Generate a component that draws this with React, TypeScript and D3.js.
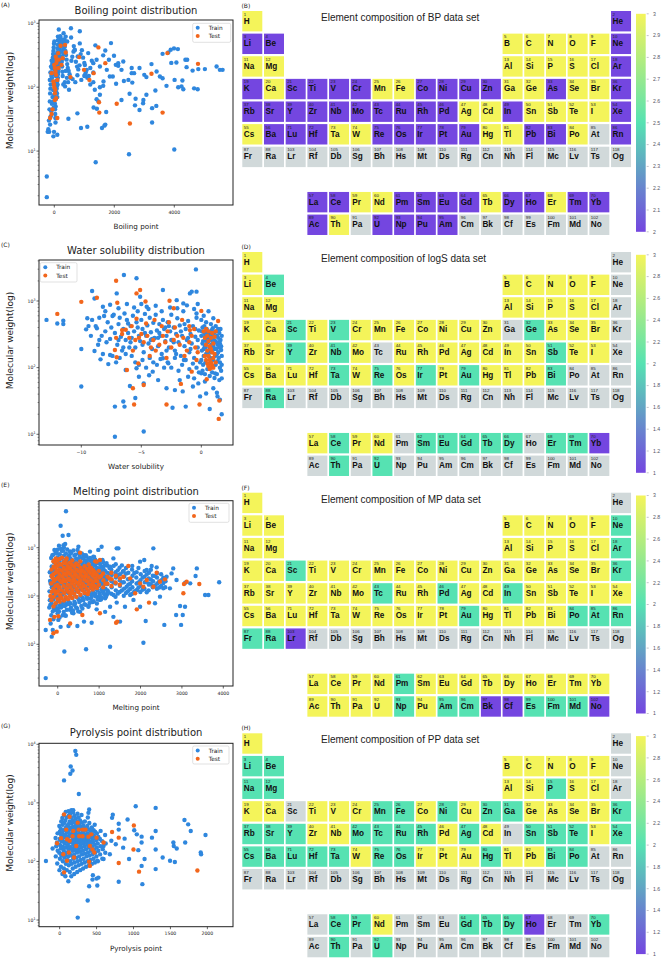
import React from "react";
import * as d3 from "d3";

// ---------------- DATA ----------------
const SYMBOLS = "H He Li Be B C N O F Ne Na Mg Al Si P S Cl Ar K Ca Sc Ti V Cr Mn Fe Co Ni Cu Zn Ga Ge As Se Br Kr Rb Sr Y Zr Nb Mo Tc Ru Rh Pd Ag Cd In Sn Sb Te I Xe Cs Ba La Ce Pr Nd Pm Sm Eu Gd Tb Dy Ho Er Tm Yb Lu Hf Ta W Re Os Ir Pt Au Hg Tl Pb Bi Po At Rn Fr Ra Ac Th Pa U Np Pu Am Cm Bk Cf Es Fm Md No Lr Rf Db Sg Bh Hs Mt Ds Rg Cn Nh Fl Mc Lv Ts Og".split(" ");

// BP (range 2-3)
const bp3 = "H B C N O F Na Mg Al Si P S Cl Ca Mn Fe Ga Ge Se Br Ag Cd Sn Sb Te I Cs Ta W Hg Tl Po Pr Nd Tb Er Th".split(" ");
const bp2 = "He Li Be Ne Ar K Sc Ti V Cr Co Ni Cu Zn As Kr Rb Sr Y Zr Nb Mo Tc Ru Rh Pd In Xe Ba Lu Hf Re Os Ir Pt Au Pb Bi Rn La Ce Pm Sm Eu Gd Dy Ho Tm Yb Ac U Np Pu Am".split(" ");
const bp1: string[] = [];
// logS
const ls3 = "H Li B C N O F Na Mg Al Si P S Cl K Ca Ti Cr Mn Fe Co Ni Cu Zn As Se Br Rb Sr Zr Mo Ru Rh Pd Ag Cd In Sn Te I Cs Ba Lu Hf W Os Pt Hg Tl Pb La Pr Nd".split(" ");
const ls2 = "Be Sc V Ge Y Nb Sb Ta Re Ir Au Bi Ra Ce Sm Eu Gd Tb Dy Er Tm Th U".split(" ");
const ls1 = ["Yb"];
// MP
const mp3 = "H Li Be B C N O F Na Mg Al Si P S Cl K Ca Ti V Cr Mn Fe Co Ni Cu Zn Ga Ge As Se Br Rb Sr Y Zr Nb Mo Ru Rh Ag Cd Sn Sb Te I Xe Cs Ba Lu Hf Ta W Re Os Ir Pt Hg Tl Pb Bi La Ce Pr Nd Sm Eu Gd Tb Dy Ho Er Tm Yb Ac Th Pa U Pu".split(" ");
const mp2 = "Ne Ar Sc Kr Tc Pd In Au Po At Rn Fr Ra Pm Np Am Cm Es Fm Md".split(" ");
const mp1 = "Lr Bk Cf No".split(" ");
// PP
const pp3 = "H B C N O F Al Si S Cl K Ca Ti V Cr Co Cu Ge As Se Br Zr Nb Pd Cd I W Ir Pt Au Tl Pb Nd".split(" ");
const pp2 = "Li Be Na Mg P Mn Fe Ni Zn Ga Kr Rb Sr Y Mo Tc Ru Rh Ag Sn Sb Te Xe Cs Ba Lu Hf Ta Re Os Hg Bi Po Ce Pr Gd Tb Dy Yb Th U".split(" ");
const pp1 = ["Ho"];

const cbTicksBP = [2, 2.1, 2.2, 2.3, 2.4, 2.5, 2.6, 2.7, 2.8, 2.9, 3];
const cbTicksAll = [1, 1.2, 1.4, 1.6, 1.8, 2, 2.2, 2.4, 2.6, 2.8, 3];

// Scatter data as flat [x, y, x, y, ...]
const bpTrain = [
-250,4,-250,1.9,-220,20,-30,17,100,18,-10,20,1380,6.7,2490,8.9,4000,10.6,890,23,1100,24,1670,25,1700,26,1590,23,770,39,470,32,1310,48,1420,46,1730,41,1410,65,1470,60,3260,28,2840,44,2690,52,2960,56,2970,63,3260,47,3400,51,3070,76,2510,79,2710,66,2240,63,2060,113,2320,125,2470,130,2600,118,2660,166,2840,200,2580,166,3000,156,3070,144,3240,230,3410,176,3520,147,3610,138,3370,89,3740,105,4010,130,4130,100,4270,127,4300,93,4410,206,4610,182,4800,192,5020,192,5410,211,5520,187,5610,187,4660,96,4780,93,4240,103,3610,333,3800,350,3880,385,3990,405,4120,395,3900,240,4070,244,4370,269,4430,269,1950,147,2050,224,1890,490,1630,315,1700,376,1820,269,1750,187,1520,211,1370,452,1130,342,850,485,850,750,555,835,680,385,780,303,1020,222,1080,187,1300,170,1300,238,1410,269,1520,100,1350,91,1020,156,1120,144,770,154,610,134,490,91,360,103,2240,187,2580,200,2130,216,2300,253,1990,310,2130,238,1850,147,1630,105,1640,123,1520,76,
-180,30,-160,45,-150,60,-140,80,-130,95,-120,110,-110,130,-100,150,-90,170,-80,200,-70,230,-60,260,-50,290,-40,330,-30,370,-20,420,-10,480,0,520,10,90,15,70,20,55,25,45,30,38,35,33,40,28,45,50,50,65,55,85,60,105,65,125,70,150,75,180,80,210,85,240,90,270,95,310,100,350,105,400,110,460,115,540,120,620,-150,130,-130,170,-110,210,-90,260,-70,140,-50,110,-30,90,-10,75,0,160,5,190,10,230,15,270,20,320,30,260,40,210,50,180,60,150,70,120,80,95,90,80,100,70,110,110,120,140,130,175,140,220,150,280,160,340,170,410,180,490,190,560,200,630,210,520,220,430,230,360,240,300,250,250,260,210,270,175,280,150,290,280,300,330,310,390,320,450,330,510,340,560,350,430,370,370,390,320,410,270,430,230,450,200,480,180,510,160,540,140,570,260,600,300,640,360,680,380,720,250,760,210,800,190,840,220,880,330,920,380,960,290,1000,240,1050,170,1100,140,1150,150,1200,200,1250,260,-200,22,-170,20,-140,26,-120,35,-100,42,-80,55,-60,70,-40,60,-20,48,150,800,170,580,250,500,260,560,200,370,180,300,160,240,140,190,120,160,100,125,90,105,380,180,420,140,460,120,350,120,300,110,700,120,900,130,1200,110,1300,120,1000,150,650,440,560,600,430,520,380,620,310,700
];
const bpTest = [
-90,38,-140,33,100,33,20,63,30,91,-30,123,40,176,0,224,80,269,130,342,210,446,360,460,380,350,280,285,240,224,140,200,60,156,-10,111,20,80,-60,45,60,67,540,144,990,187,830,296,1170,130,1310,166,1470,420,1700,238,1490,58,1500,40,2080,55,2520,27,3240,162,3610,40,3770,342,4790,232,-90,166,100,130,20,200,50,300,150,270,0,100,70,240
];

const lsTrain = [
-12.9,520,-12.0,460,-11.5,505,-11.5,450,-10.0,190,-10.0,52,-9.6,375,-9.5,550,-9.1,1410,-8.9,1090,-9.1,520,-8.7,390,-8.9,178,-8.5,260,-8.2,820,-8.1,595,-8.4,133,-7.75,113,-7.6,155,-7.4,595,-7.2,26,-7.2,9.2,-7.05,1300,-6.9,260,-6.5,31,-6.45,2450,-6.4,26,-6.5,200,-6.3,92,-6.1,460,-5.95,53,-5.5,35,-5.4,2190,-5.4,98,-5.2,73,-5.1,1160,-4.8,11,-4.8,58,-4.55,820,-4.35,77,-4.05,87,-3.9,275,-3.6,65,-3.2,1460,-3.2,138,-2.9,49,-2.75,116,-2.5,260,-2.4,25,-2.2,46,-2.05,1030,-1.8,65,-1.55,44,-1.5,920,-1.45,130,-1.3,26,-1.1,73,-0.95,1300,-0.8,1380,-0.7,52,-0.6,69,-0.45,2980,-0.4,1380,-0.4,650,-0.25,58,-0.1,37,0,82,0.3,62,0.4,41,0.7,24,1.0,49,1.15,82,1.3,42,1.35,37,1.7,20,1.55,33,1.7,69,1.7,110,1.55,230,1.65,184,
-8.8,420,-8.5,560,-8.3,300,-8.0,350,-7.8,480,-7.6,270,-7.5,400,-7.3,620,-7.2,330,-7.0,220,-6.9,450,-6.8,560,-6.7,290,-6.6,180,-6.5,380,-6.4,650,-6.3,260,-6.2,520,-6.1,330,-6.0,200,-8.6,220,-8.2,160,-7.9,240,-7.4,150,-7.1,120,-6.8,140,-6.3,160,-9.2,300,-9.4,420,-8.0,700,-7.6,880,-6.9,780,-6.2,900,
-5.9,420,-5.8,280,-5.7,600,-5.6,350,-5.5,200,-5.4,480,-5.3,700,-5.2,300,-5.1,250,-5.0,520,-4.9,380,-4.8,170,-4.7,640,-4.6,300,-4.5,430,-4.4,230,-4.3,560,-4.2,340,-4.1,190,-4.0,470,-3.9,280,-3.8,620,-3.7,360,-3.6,210,-3.5,450,-3.4,300,-3.3,160,-3.2,520,-3.1,380,-3.0,250,-5.8,150,-5.5,120,-5.2,110,-4.9,130,-4.6,100,-4.3,140,-4.0,120,-3.7,110,-3.4,135,-3.1,100,-5.6,800,-5.0,900,-4.4,760,-3.8,850,-3.3,700,-5.3,400,-4.7,330,-4.1,270,-3.5,330,-5.9,240,-4.9,220,-4.2,260,-3.6,280,-3.0,400,
-2.9,300,-2.8,480,-2.7,200,-2.6,350,-2.5,620,-2.4,260,-2.3,400,-2.2,180,-2.1,320,-2.0,550,-1.9,240,-1.8,430,-1.7,150,-1.6,300,-1.5,700,-1.4,210,-1.3,380,-1.2,260,-1.1,500,-1.0,170,-0.9,320,-0.8,230,-0.7,420,-0.6,140,-0.5,290,-0.4,560,-0.3,200,-0.2,360,-0.1,120,-2.8,120,-2.5,100,-2.2,140,-1.9,90,-1.6,110,-1.3,130,-1.0,95,-0.7,115,-0.4,100,-0.2,85,-2.6,800,-2.0,780,-1.2,860,-0.6,760,-0.3,900,-2.9,180,-2.3,240,-1.7,350,-1.1,280,-0.5,380,-2.7,420,-2.1,160,-1.4,450,-0.9,190,-0.3,260,
0.0,300,0.05,180,0.1,400,0.15,250,0.2,150,0.25,330,0.3,210,0.35,120,0.4,280,0.45,380,0.5,170,0.55,240,0.6,110,0.65,320,0.7,200,0.75,140,0.8,260,0.85,360,0.9,180,0.95,230,1.0,130,1.05,300,1.1,190,1.15,250,1.2,110,1.25,350,1.3,160,1.35,220,1.4,280,1.45,140,1.5,200,1.55,120,1.6,260,1.65,90,0.0,520,0.2,600,0.4,480,0.6,700,0.8,450,1.0,550,1.2,420,1.4,380,0.1,90,0.3,80,0.5,95,0.7,75,0.9,85,1.1,70,1.3,80,1.5,65,0.1,230,0.3,290,0.5,330,0.7,270,0.9,310,1.1,340,1.3,300,1.5,330,0.2,190,0.4,160,0.6,150,0.8,170,1.0,210,1.2,240,1.4,170,0.0,130,0.15,110,0.35,200,0.55,290,0.75,330,0.95,390,1.15,150,1.35,125,1.55,100,0.05,350,0.25,420,0.45,250,0.65,180,0.85,220,1.05,260,1.25,190,1.45,240,1.65,210,1.7,150,1.7,300,1.6,380
];
const lsTest = [
-12,640,-10,970,-8.7,1120,-7.1,2010,-7.0,940,-7.05,143,-7.2,184,-6.6,366,-6.2,92,-5.7,49,-5.6,28,-5.4,1300,-5.1,1460,-4.65,980,-4.8,55,-5.25,116,-2.9,28,-2.65,1010,-2.3,780,-1.7,57,-0.95,366,-0.15,28,0,710,1.4,500,1.5,32,1.45,17,0.45,67,-0.8,87,
0.2,350,0.3,280,0.4,220,0.5,180,0.6,150,0.7,130,0.8,120,0.9,110,1.0,140,0.5,300,0.6,250,0.7,210,0.8,190,0.9,170,1.0,230,1.1,160,1.2,120,0.3,150,0.4,130,0.5,115,0.6,105,0.7,95,0.8,100,1.0,100,1.1,290,1.2,350,0.9,330,0.8,280,0.6,350,0.4,380,
-5.5,260,-5.2,280,-5.0,320,-4.8,240,-4.5,300,-4.2,200,-4.0,260,-3.8,180,-3.5,220,-3.2,300,-3.0,240,-2.8,350,-2.5,200,-2.3,260,-2.0,300,-1.8,220,-1.5,280,-1.2,180,-1.0,240,-0.8,300,-0.5,200,-0.3,170,-6.3,370,-6.0,280,-5.8,420,-5.4,540,-4.6,460,-3.9,520,-3.3,420,-2.7,480,-2.2,400,-1.6,520,-1.0,420,-0.6,380,-5.7,180,-4.3,150,-2.9,140,-1.4,150,-0.4,130,-6.6,320,-7.1,280
];

const mpTrain = [
-290,2.0,-290,19.8,-145,14.4,160,7.1,685,7.9,1265,8.9,2070,10.8,2125,30.4,2575,25.2,2980,25.2,2860,40.5,3020,40.5,3075,60,2955,62,3560,105,3640,105,3900,192,3360,373,3330,259,3200,183,3080,188,2790,373,2750,294,2870,214,2630,251,2550,144,2710,144,2470,97,2350,71,2310,970,2090,555,1990,514,2150,345,2270,417,2390,392,2190,183,1920,133,1830,83,1990,60,1750,105,1665,156,1570,318,1465,970,1425,970,1345,600,1265,405,1060,1050,980,900,860,650,780,830,620,710,500,1050,300,830,260,1830,200,5700,70,2850,120,1770,140,1130,1020,83,1145,47,1345,37,1505,29.5,820,28,635,29.5,475,24,260,24,70,23,-120,19.8,-170,27,15,32,175,40,380,44,540,47,740,60,940,53,1265,60,1625,60,1425,73,
-205,58,-190,82,-198,125,-185,205,-192,310,
-155,40,-148,71,-160,92,-142,152,-152,255,-146,410,-158,610,
-105,33,-96,56,-110,84,-92,112,-104,172,-98,232,-108,355,-94,505,-102,720,
-55,52,-46,66,-58,96,-44,132,-52,192,-48,282,-56,425,-42,565,-50,810,
-4,44,6,56,-8,78,3,101,-2,142,8,202,-6,262,4,335,-10,455,2,625,-3,910,
45,36,54,64,48,86,56,121,44,162,52,242,47,302,55,385,43,525,51,730,
96,61,104,71,98,101,106,132,94,182,102,222,97,282,105,355,95,435,103,605,99,860,
146,47,154,76,148,112,156,152,144,202,152,262,147,322,155,405,145,505,153,690,149,1010,
196,39,204,66,198,91,206,126,194,172,202,232,197,292,205,375,195,465,203,565,199,760,
246,70,254,81,248,116,256,162,244,212,252,272,247,342,255,425,245,525,253,645,
296,52,304,71,298,101,306,142,294,192,302,252,297,312,305,395,295,485,303,605,299,830,
346,45,354,91,348,126,356,172,344,222,352,292,347,362,355,455,345,555,
396,66,404,76,398,111,406,152,394,202,402,262,397,332,405,415,395,515,403,685,
446,58,454,96,448,131,456,182,444,242,452,302,447,382,455,475,445,595,
496,48,504,86,498,121,506,162,494,212,502,282,497,352,505,445,495,565,503,770,
546,80,554,101,548,142,556,192,544,252,552,322,547,405,555,505,
596,55,604,91,598,131,606,172,594,232,602,302,597,375,605,465,595,605,
646,68,654,111,648,152,656,202,644,262,652,342,647,425,655,535,
696,92,704,96,698,136,706,182,694,242,702,312,697,395,705,485,695,655,
746,62,754,116,748,162,756,212,744,282,752,352,747,445,
796,88,804,106,798,146,806,192,794,252,802,322,797,415,805,525,
846,75,854,121,848,166,856,222,844,292,852,372,847,465,
896,105,904,111,898,152,906,202,894,272,902,342,897,435,905,565,
946,70,954,131,948,176,956,232,944,302,952,385,
996,98,1004,116,998,162,1006,212,994,282,1002,362,997,475,
1046,85,1054,136,1048,182,1056,242,1044,312,1052,405,
1096,120,1104,126,1098,172,1106,222,1094,292,1102,372,1097,505,
1146,90,1154,142,1148,192,1156,252,1144,332,
1196,110,1204,131,1198,176,1206,232,1194,302,1202,425,
1296,111,1304,152,1298,202,1306,272,1294,352,
1396,96,1404,131,1398,182,1406,242,1394,312,1402,455,
1496,121,1504,162,1498,212,1506,282,1494,385,
1596,101,1604,142,1598,192,1606,252,1594,332,
1696,126,1704,172,1698,222,1706,302,
1796,111,1804,152,1798,202,1806,262,1794,352,
1896,131,1904,182,1898,242,1906,312,
1996,121,2004,162,1998,212,2006,282,
2096,141,2104,192,2098,252,
2196,131,2204,172,2198,232,2206,302,
2296,152,2304,202,2298,262,
2396,141,2404,182,2398,242,
2496,162,2504,212,2498,282,
2596,152,2604,202,
-180,65,-120,48,-70,58,-20,52,30,48,80,58,120,40,170,62,220,52,270,68,320,58,370,50,420,70,470,55,520,75,570,62,620,82,670,66,720,88,770,72,820,95,870,78,920,98,970,85,1020,105,1070,92,1120,110,1170,98,1230,118,1350,105,1450,112,1550,130,1650,115,1750,140,1850,125,1950,150,2050,135,2150,120,2250,175,2350,165,2450,150,2550,185,
-130,700,-80,900,-20,760,30,1100,80,950,130,860,180,1200,230,920,280,700,330,780,380,880,430,720,480,900,530,650,580,760,630,620,680,700,730,560,780,610,830,540,880,640,930,480,980,520,1030,450,1080,560,1130,430,1180,480,1250,380,1350,420,1450,340,1550,430,1650,380,1800,420,1950,380,2100,330,2250,350,2400,300,
-170,180,-130,300,-80,140,-30,240,20,170,70,330,120,260,170,190,220,420,270,300,320,160,370,240,420,350,470,210,520,390,570,260,620,200,670,380,720,280,770,230,820,350,870,190,920,300,970,250,1020,190,1070,330,1120,260,1170,210,1250,290,1350,190,1450,270,1550,190,1650,290,1750,180,1850,300,1950,190,2050,240,2150,280,2250,220,2350,260,2450,200,2550,240
];
const mpTest = [
-105,17,-25,18.3,-80,37,-185,32,15,38,300,27,595,40.5,1020,44,1410,28,1440,29.5,1910,53,2205,73,1870,114,2070,156,2390,304,2590,221,3035,114,3050,177,3420,177,3115,198,2470,198,2310,156,2150,214,1990,183,1750,232,1585,251,1705,417,1020,555,940,514,540,790,-90,540,215,600,
-152,82,-146,122,-155,182,-144,262,-150,352,
-102,61,-96,96,-106,142,-94,202,-100,282,-98,402,-104,522,
-52,71,-46,111,-55,162,-44,222,-50,302,-48,382,-54,482,-45,602,
-2,86,4,126,-5,172,6,242,0,312,3,422,-4,542,
48,76,54,106,46,152,55,212,50,272,44,352,52,462,47,582,
98,91,104,131,96,192,106,252,100,332,95,442,103,622,
148,81,155,116,146,162,154,222,150,292,145,382,152,502,
198,96,204,142,195,202,206,272,200,352,196,472,203,562,
248,86,254,122,246,172,255,232,250,312,245,412,
298,101,304,152,296,212,305,282,300,372,295,492,
348,91,354,132,346,182,355,252,350,332,345,442,352,542,
398,111,404,162,396,222,405,302,400,402,
448,96,454,142,446,192,455,262,450,352,445,472,
498,121,504,172,496,242,505,322,500,432,
548,106,554,152,546,212,555,282,550,382,545,522,
598,131,604,182,596,252,605,342,
648,116,654,162,646,222,655,302,650,412,
698,141,704,202,696,272,705,362,
748,126,754,176,746,242,755,322,750,452,
798,151,804,212,796,292,805,382,
848,136,854,192,846,262,855,342,
898,161,904,232,896,312,905,522,
948,146,954,202,946,272,
998,171,1004,242,996,332,
1098,151,1104,212,1096,292,
1198,181,1204,252,
1298,161,1304,222,1296,302,
1398,191,1404,262,
1498,171,1504,232,
-175,100,-125,240,-75,128,-25,330,25,150,75,96,125,200,175,290,225,135,275,380,325,115,375,210,425,280,475,130,525,190,575,330,625,160,675,260,725,110,775,390,825,170,875,290,925,210,1050,260,1150,180,1250,230
];

const ppTrain = [
-185,102,-95,166,213,7700,225,6600,150,4170,175,3580,145,3150,60,2420,260,1420,245,11,380,21.6,400,37.7,445,49,450,58,500,51,525,53,510,38.8,800,45,1120,41,1030,876,1300,820,1690,510,1740,430,1775,330,1975,283,1910,142,1915,133,1700,210,1540,210,1545,184,1585,166,1495,103,1560,98,1395,117,1250,255,1300,330,1300,160,1300,74,1150,110,1110,210,1110,265,1065,156,1045,290,1010,340,920,520,880,245,800,350,800,440,710,555,720,630,700,225,760,197,940,110,1110,84,860,172,680,133,595,184,510,103,595,110,390,676,400,770,185,750,
-52,122,-46,182,-55,252,
-32,92,-26,152,-34,212,-28,302,
-2,71,4,111,-5,141,6,191,0,241,3,322,-4,402,
18,81,24,126,16,166,25,222,20,282,15,362,22,482,
38,61,44,101,36,136,45,176,40,232,35,302,42,422,37,552,
58,76,64,116,56,152,65,202,60,262,55,342,62,452,57,622,
78,56,84,91,76,126,85,172,80,216,75,282,82,372,77,502,83,702,
98,71,104,106,96,142,105,186,100,242,95,312,102,402,97,562,
118,46,124,86,116,122,125,162,120,206,115,262,122,332,117,432,123,602,119,722,
138,66,144,101,136,136,145,176,140,226,135,292,142,372,137,482,143,652,
158,56,164,91,156,126,165,166,160,212,155,272,162,352,157,442,163,562,159,752,
178,76,184,111,176,152,185,192,180,242,175,312,182,392,177,502,183,682,
198,61,204,96,196,132,205,172,200,222,195,282,202,362,197,462,203,602,
218,81,224,116,216,156,225,202,220,252,215,322,222,412,217,542,
238,66,244,101,236,142,245,182,240,232,235,292,242,372,237,482,243,652,
258,86,264,122,256,162,265,212,260,272,255,342,262,432,257,562,
278,71,284,106,276,146,285,192,280,242,275,302,282,392,277,502,
298,91,304,132,296,172,305,222,300,282,295,362,302,462,297,622,
318,76,324,111,316,152,325,202,320,252,315,322,322,412,
338,96,344,136,336,182,345,232,340,292,335,372,342,482,
358,81,364,122,356,162,365,212,360,272,355,342,
378,101,384,142,376,192,385,242,380,302,375,402,382,562,
398,86,404,126,396,172,405,222,400,282,395,352,402,452,
418,106,424,152,416,202,425,262,420,332,
438,91,444,132,436,182,445,232,440,292,435,382,
458,111,464,162,456,212,465,272,460,342,
478,96,484,142,476,192,485,252,480,322,475,422,
498,122,504,172,496,232,505,302,
518,101,524,152,516,202,525,262,
548,132,554,182,546,242,555,332,
578,111,584,162,576,222,
618,141,624,202,616,282
];
const ppTest = [
-35,205,20,250,50,133,60,65,60,635,135,580,90,350,100,240,135,225,175,270,195,117,225,184,245,460,265,270,310,270,350,350,390,265,410,184,410,84,400,99,430,290,445,160,470,142,500,255,595,210,710,318,800,94,800,255,1005,410,1000,160,1075,67,1865,70,100,103,125,142,185,330,260,350,315,350
];

// ---------------- STYLE ----------------
const BLUE = "#2f87de";
const ORANGE = "#f2661c";
const PURPLE = "#7446e0";
const MINT = "#56e2b2";
const YELLOW = "#f4f45a";
const GRAY = "#d1d9da";

const toPairs = (a: number[]) => d3.range(0, a.length, 2).map((i) => [a[i], a[i + 1]]);

const scatterPanels = [
  { id: "A", tag: "(A)", tagY: 6.5, title: "Boiling point distribution", titleY: 13.5, xlabel: "Boiling point",
    top: 20, bottom: 205, xDom: [-510, 5957], yExp: [0.156, 3.052], xTicks: [0, 2000, 4000], yTicks: [1, 2, 3],
    legend: [192.7, 23.3, 38, 19], train: bpTrain, test: bpTest },
  { id: "C", tag: "(C)", tagY: 247, title: "Water solubility distribution", titleY: 253.5, xlabel: "Water solubility",
    top: 260, bottom: 445, xDom: [-13.525, 2.64], yExp: [0.839, 3.615], xTicks: [-10, -5, 0], yTicks: [1, 2, 3],
    legend: [40.3, 262.7, 36.7, 19.3], train: lsTrain, test: lsTest },
  { id: "E", tag: "(E)", tagY: 487, title: "Melting point distribution", titleY: 495, xlabel: "Melting point",
    top: 500.7, bottom: 686, xDom: [-452, 4234], yExp: [0.137, 3.973], xTicks: [0, 1000, 2000, 3000, 4000], yTicks: [1, 2, 3],
    legend: [189, 503.3, 40, 19], train: mpTrain, test: mpTest },
  { id: "G", tag: "(G)", tagY: 728, title: "Pyrolysis point distribution", titleY: 736, xlabel: "Pyrolysis point",
    top: 743.3, bottom: 926.7, xDom: [-279, 2347], yExp: [0.886, 4.017], xTicks: [0, 500, 1000, 1500, 2000], yTicks: [1, 2, 3, 4],
    legend: [192.7, 746, 36.3, 18], train: ppTrain, test: ppTest },
];

const tablePanels = [
  { id: "B", tag: "(B)", off: 0, title: "Element composition of BP data set", lv3: bp3, lv2: bp2, lv1: bp1, dom: [2, 2.5, 3], ticks: cbTicksBP },
  { id: "D", tag: "(D)", off: 241, title: "Element composition of logS data set", lv3: ls3, lv2: ls2, lv1: ls1, dom: [1, 2, 3], ticks: cbTicksAll },
  { id: "F", tag: "(F)", off: 481.7, title: "Element composition of MP data set", lv3: mp3, lv2: mp2, lv1: mp1, dom: [1, 2, 3], ticks: cbTicksAll },
  { id: "H", tag: "(H)", off: 722.3, title: "Element composition of PP data set", lv3: pp3, lv2: pp2, lv1: pp1, dom: [1, 2, 3], ticks: cbTicksAll },
];

function gridPos(z: number): [number, number] {
  if (z === 1) return [0, 0];
  if (z === 2) return [0, 17];
  if (z <= 4) return [1, z - 3];
  if (z <= 10) return [1, z - 5 + 12];
  if (z <= 12) return [2, z - 11];
  if (z <= 18) return [2, z - 13 + 12];
  if (z <= 36) return [3, z - 19];
  if (z <= 54) return [4, z - 37];
  if (z <= 56) return [5, z - 55];
  if (z <= 70) return [8, z - 57 + 3];
  if (z === 71) return [5, 2];
  if (z <= 86) return [5, z - 72 + 3];
  if (z <= 88) return [6, z - 87];
  if (z <= 102) return [9, z - 89 + 3];
  if (z === 103) return [6, 2];
  return [6, z - 104 + 3];
}

function Scatter({ p }: { p: any }) {
  const left = 39, right = 233;
  const x = d3.scaleLinear().domain(p.xDom).range([left, right]);
  const y = d3.scaleLog().domain([10 ** p.yExp[0], 10 ** p.yExp[1]]).range([p.bottom, p.top]);
  const minor: number[] = [];
  for (let e = Math.floor(p.yExp[0]); e <= Math.ceil(p.yExp[1]); e++)
    for (let k = 2; k <= 9; k++) {
      const v = k * 10 ** e;
      if (v >= 10 ** p.yExp[0] && v <= 10 ** p.yExp[1]) minor.push(v);
    }
  const train = toPairs(p.train);
  const test = toPairs(p.test);
  const [lx, ly, lw, lh] = p.legend;
  const cid = "clip" + p.id;
  return (
    <g fontFamily="'DejaVu Sans', sans-serif" fill="#222">
      <text x={1} y={p.tagY} fontSize={6}>{p.tag}</text>
      <text x={(left + right) / 2} y={p.titleY} fontSize={10} textAnchor="middle">{p.title}</text>
      <clipPath id={cid}><rect x={left} y={p.top} width={right - left} height={p.bottom - p.top} /></clipPath>
      <g clipPath={`url(#${cid})`}>
        {train.map(([a, b], i) => <circle key={"t" + i} cx={x(a)} cy={y(b)} r={2.2} fill={BLUE} />)}
        {test.map(([a, b], i) => <circle key={"s" + i} cx={x(a)} cy={y(b)} r={2.2} fill={ORANGE} />)}
      </g>
      <rect x={left} y={p.top} width={right - left} height={p.bottom - p.top} fill="none" stroke="#222" strokeWidth={1} />
      {p.xTicks.map((t: number) => (
        <g key={"xt" + t}>
          <line x1={x(t)} x2={x(t)} y1={p.bottom} y2={p.bottom + 2.5} stroke="#222" strokeWidth={0.7} />
          <text x={x(t)} y={p.bottom + 8.5} fontSize={4.6} textAnchor="middle">{t < 0 ? "\u2212" + Math.abs(t) : t}</text>
        </g>
      ))}
      {p.yTicks.map((e: number) => (
        <g key={"yt" + e}>
          <line x1={left - 2.5} x2={left} y1={y(10 ** e)} y2={y(10 ** e)} stroke="#222" strokeWidth={0.7} />
          <text x={left - 3.5} y={y(10 ** e) + 1.8} fontSize={4.6} textAnchor="end">10<tspan dy={-2.2} fontSize={3.3}>{e}</tspan></text>
        </g>
      ))}
      {minor.map((v) => <line key={"m" + v} x1={left - 1.4} x2={left} y1={y(v)} y2={y(v)} stroke="#222" strokeWidth={0.5} />)}
      <text x={(left + right) / 2} y={p.bottom + 24} fontSize={7.2} textAnchor="middle">{p.xlabel}</text>
      <text transform={`translate(12.5,${(p.top + p.bottom) / 2 - 12}) rotate(-90)`} fontSize={9} textAnchor="middle">Molecular weight(log)</text>
      <rect x={lx} y={ly} width={lw} height={lh} rx={1.5} fill="#fff" fillOpacity={0.85} stroke="#ccc" strokeWidth={0.6} />
      <circle cx={lx + 5} cy={ly + 4.5} r={2} fill={BLUE} />
      <text x={lx + 16} y={ly + 6.5} fontSize={5.8}>Train</text>
      <circle cx={lx + 5} cy={ly + 12.8} r={2} fill={ORANGE} />
      <text x={lx + 16} y={ly + 14.8} fontSize={5.8}>Test</text>
    </g>
  );
}

function PTable({ q }: { q: any }) {
  const off = q.off;
  const x0 = 242.3, px = 21.69, y0 = 11 + off, py = 22.62, cw = 20, ch = 20.4;
  const color = d3.scaleLinear<string>().domain(q.dom).range([PURPLE, MINT, YELLOW]).interpolate(d3.interpolateRgb);
  const valueOf = (s: string) => (q.lv3.includes(s) ? 3 : q.lv2.includes(s) ? 2 : q.lv1.includes(s) ? 1 : null);
  const cbTop = 13.8 + off, cbH = 218, cbX = 636, cbW = 9.7;
  const cy = d3.scaleLinear().domain([q.dom[0], q.dom[2]]).range([cbTop + cbH, cbTop]);
  const gid = "grad" + q.id;
  return (
    <g fontFamily="'Liberation Sans', Arial, sans-serif">
      <defs>
        <linearGradient id={gid} x1="0" y1="1" x2="0" y2="0">
          {d3.range(0, 1.0001, 0.1).map((t) => (
            <stop key={t} offset={t} stopColor={color(q.dom[0] + t * (q.dom[2] - q.dom[0]))} />
          ))}
        </linearGradient>
      </defs>
      <text x={241.5} y={8 + off} fontSize={6} fontFamily="'DejaVu Sans', sans-serif" fill="#222">{q.tag}</text>
      <text x={321} y={21 + off} fontSize={10} fill="#222">{q.title}</text>
      {SYMBOLS.map((s, i) => {
        const z = i + 1;
        const [r, c] = gridPos(z);
        const v = valueOf(s);
        const cx = x0 + c * px, cyy = y0 + r * py;
        return (
          <g key={s}>
            <rect x={cx} y={cyy} width={cw} height={ch} fill={v == null ? GRAY : color(v)} />
            <text x={cx + 1.5} y={cyy + 4.6} fontSize={4.4} fill="#222">{z}</text>
            <text x={cx + 1.5} y={cyy + 12.6} fontSize={8.2} fontWeight="bold" fill="#111">{s}</text>
          </g>
        );
      })}
      <rect x={cbX} y={cbTop} width={cbW} height={cbH} fill={`url(#${gid})`} />
      {q.ticks.map((t: number) => (
        <g key={t}>
          <line x1={cbX + cbW + 1} x2={cbX + cbW + 3} y1={cy(t)} y2={cy(t)} stroke="#889" strokeWidth={0.5} />
          <text x={653} y={cy(t) + 1.8} fontSize={5.2} fill="#556">{String(Math.round(t * 10) / 10)}</text>
        </g>
      ))}
    </g>
  );
}

export default function App() {
  return (
    <svg width={661} height={959} viewBox="0 0 661 959" style={{ position: "absolute", left: 0, top: 0, background: "#fff" }}>
      <rect x={0} y={0} width={661} height={959} fill="#fff" />
      {scatterPanels.map((p) => <Scatter key={p.id} p={p} />)}
      {tablePanels.map((q) => <PTable key={q.id} q={q} />)}
    </svg>
  );
}
